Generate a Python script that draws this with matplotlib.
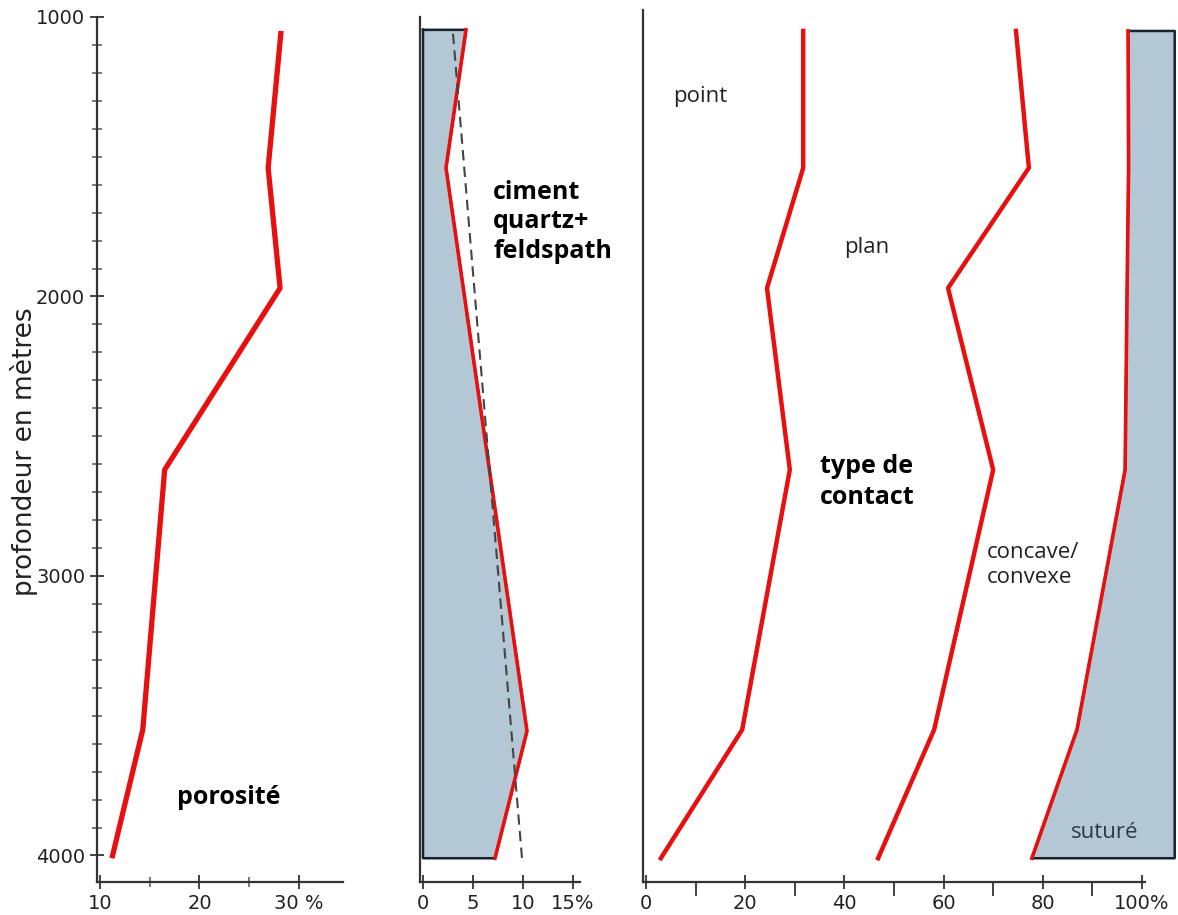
"""
Diagenesis vs depth: porosity, quartz+feldspar cement and grain contact types.
Output: out.png
"""
import numpy as np
import matplotlib.pyplot as plt
from matplotlib.ticker import MultipleLocator, FixedLocator, FixedFormatter

# --- data ---
depth = [1050, 1540, 1970, 2620, 3550, 4010]          # m
porosite = [28.2, 26.9, 28.1, 16.5, 14.3, 11.2]        # %

depth_ciment = [1046, 1540, 3555, 4010]
ciment = [4.3, 2.3, 10.4, 7.2]                         # %
depth_trend = [1060, 4010]
ciment_trend = [3.0, 9.9]

# cumulative contact types (%)
cum_point = [31.7, 31.7, 24.4, 29.0, 19.4, 3.0]
cum_plan = [74.6, 77.2, 60.9, 70.0, 58.1, 46.8]
cum_concave = [97.2, 97.3, 97.0, 96.6, 86.9, 77.8]
suture_right = 106.6

RED = "#e8100f"
FILL = "#b3c7d4"
EDGE = "#16232e"
TXT = "#222222"
LABEL_FONT = ["Open Sans", "DejaVu Sans"]

W, H = 1178, 915
fig = plt.figure(figsize=(W / 100, H / 100), dpi=100)
fig.patch.set_facecolor("white")

YLIM = (4095, 975)
bot = (H - 882) / H
hgt = 872 / H


def axes_px(left_px, width_px):
    ax = fig.add_axes([left_px / W, bot, width_px / W, hgt])
    ax.set_facecolor("none")
    ax.set_ylim(*YLIM)
    for s in ("top", "right"):
        ax.spines[s].set_visible(False)
    for s in ("left", "bottom"):
        ax.spines[s].set_linewidth(1.6)
        ax.spines[s].set_color("#333333")
    ax.tick_params(colors="#333333", labelcolor="#222222", labelsize=14,
                   direction="inout", width=1.3)
    return ax


# --- panel 1: porosité ---
ax1 = axes_px(97, 24.7 * 9.95)
ax1.set_xlim(9.7, 34.4)
ax1.spines["left"].set_bounds(4095, 1000)
ax1.yaxis.set_major_locator(FixedLocator([1000, 2000, 3000, 4000]))
ax1.yaxis.set_minor_locator(MultipleLocator(100))
ax1.xaxis.set_major_locator(FixedLocator([10, 20, 30]))
ax1.xaxis.set_major_formatter(FixedFormatter(["10", "20", "30 %"]))
ax1.xaxis.set_minor_locator(FixedLocator([15, 25]))
ax1.tick_params(which="major", length=10)
ax1.tick_params(which="minor", direction="inout", length=7, width=1.1,
                colors="#555555")
ax1.plot(porosite, depth, color=RED, lw=3.8, solid_capstyle="butt")
ax1.text(22.96, 3791, "porosité", fontsize=18, fontweight="bold",
         ha="center", va="center", family=LABEL_FONT, color="black")
fig.text(24 / W, (H - 452) / H, "profondeur en mètres", fontsize=19,
         rotation=90, ha="center", va="center", color=TXT)

# --- panel 2: ciment ---
ax2 = axes_px(420, 160)
ax2.set_xlim(-0.3, 15.7)
ax2.spines["left"].set_bounds(4095, 1000)
ax2.yaxis.set_major_locator(FixedLocator([]))
ax2.xaxis.set_major_locator(FixedLocator([0, 5, 10, 15]))
ax2.xaxis.set_major_formatter(FixedFormatter(["0", "5", "10", "15%"]))
ax2.tick_params(which="major", length=10)
ax2.fill_betweenx(depth_ciment, 0, ciment, color=FILL, lw=0)
ax2.plot([0] + ciment + [0, 0], [depth_ciment[0]] + depth_ciment
         + [depth_ciment[-1], depth_ciment[0]], color=EDGE, lw=1.8)
ax2.plot(ciment, depth_ciment, color=RED, lw=2.6)
ax2.plot(ciment_trend, depth_trend, color="#444444", lw=1.5,
         dashes=(5, 3))
ax2.text(7.0, 1733, "ciment\nquartz+\nfeldspath", fontsize=18,
         fontweight="bold", ha="left", va="center", family=LABEL_FONT,
         color="black", linespacing=1.25)

# --- panel 3: type de contact ---
ax3 = axes_px(643, 108.0 * 4.96)
ax3.set_xlim(-0.6, 107.4)
ax3.spines["bottom"].set_bounds(-0.6, 100.6)
ax3.yaxis.set_major_locator(FixedLocator([]))
ax3.xaxis.set_major_locator(FixedLocator([0, 20, 40, 60, 80, 100]))
ax3.xaxis.set_major_formatter(FixedFormatter(["0", "20", "40", "60", "80",
                                              "100%"]))
ax3.xaxis.set_minor_locator(FixedLocator([10, 30, 50, 70, 90]))
ax3.tick_params(which="both", length=10)
ax3.tick_params(which="minor", width=1.3, colors="#333333")

ax3.fill_betweenx(depth, cum_concave, suture_right, color=FILL, lw=0)
ax3.plot(cum_concave + [suture_right, suture_right, cum_concave[0]],
         depth + [depth[-1], depth[0], depth[0]], color=EDGE, lw=1.8)
ax3.plot(cum_point, depth, color=RED, lw=3.2)
ax3.plot(cum_plan, depth, color=RED, lw=3.2)
ax3.plot(cum_concave, depth, color=RED, lw=2.6)

ax3.text(10.9, 1286, "point", fontsize=16, ha="center", va="center",
         family=LABEL_FONT, color=TXT)
ax3.text(44.6, 1823, "plan", fontsize=16, ha="center", va="center",
         family=LABEL_FONT, color=TXT)
ax3.text(35.1, 2664, "type de\ncontact", fontsize=18, fontweight="bold",
         ha="left", va="center", family=LABEL_FONT, color="black",
         linespacing=1.3)
ax3.text(68.8, 2961, "concave/\nconvexe", fontsize=16, ha="left",
         va="center", family=LABEL_FONT, color=TXT, linespacing=1.3)
ax3.text(92.5, 3919, "suturé", fontsize=16, ha="center", va="center",
         family=LABEL_FONT, color="#2b3a48")

fig.savefig("out.png", dpi=100, facecolor="white")
